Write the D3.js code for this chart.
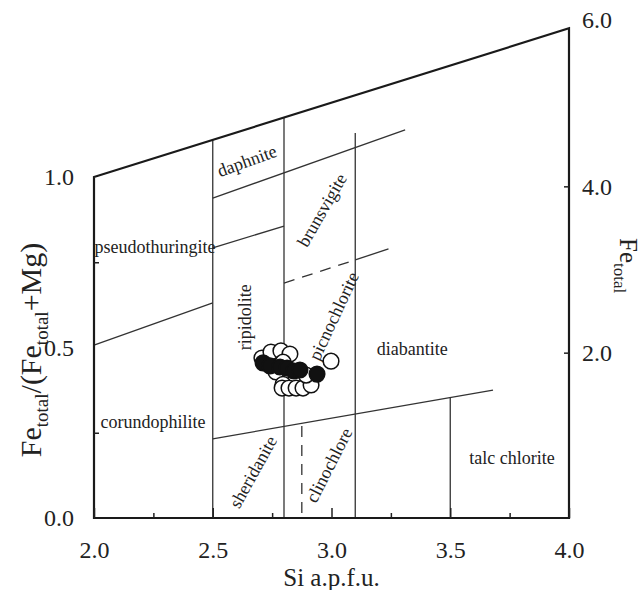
<!DOCTYPE html>
<html>
<head>
<meta charset="utf-8">
<script src="https://cdn.jsdelivr.net/npm/d3@7"></script>
<style>
  body { margin: 0; background: #fff; }
</style>
</head>
<body>
<script>
// Axis ticks
var xTicks = [2.0, 2.5, 3.0, 3.5, 4.0];
var xMinor = [2.25, 2.75, 3.25, 3.75];
var yTicks = [0.0, 0.5, 1.0];
var yMinor = [0.25, 0.75];
var feTicks = [2.0, 4.0, 6.0];
var feTop = 5.9; // Fe total at the top right corner

// Field boundaries, [Si, Fe/(Fe+Mg)]; "top" means up to the upper frame line
var solidLines = [
  [[2.0, 0.507], [2.5, 0.631]],
  [[2.5, 0.792], [2.8, 0.856]],
  [[2.5, 0.938], [3.31, 1.138]],
  [[3.1, 0.757], [3.24, 0.789]],
  [[2.5, 0.232], [3.68, 0.375]]
];
var verticals = [
  [2.5, 0, "top"],
  [2.8, 0, "top"],
  [3.1, 0, 1.129],
  [3.5, 0, 0.353]
];
var dashedLines = [
  [[2.8, 0.689], [3.1, 0.757]],
  [[2.875, 0.015], [2.875, 0.277]]
];

// Field names: [label, Si, ratio, angle]
var fields = [
  ["daphnite", 2.644, 1.047, -20],
  ["brunsvigite", 2.96, 0.903, -60],
  ["pseudothuringite", 2.257, 0.795, 0],
  ["ripidolite", 2.636, 0.589, -90],
  ["picnochlorite", 3.01, 0.592, -65],
  ["diabantite", 3.34, 0.496, 0],
  ["corundophilite", 2.248, 0.282, 0],
  ["sheridanite", 2.67, 0.135, -61],
  ["clinochlore", 2.99, 0.155, -63],
  ["talc chlorite", 3.76, 0.176, 0]
];

// Samples [Si, Fe/(Fe+Mg)]
var openPts = [
  [2.707, 0.469], [2.745, 0.487], [2.787, 0.490], [2.825, 0.481],
  [2.796, 0.457], [2.766, 0.428], [2.851, 0.411], [2.796, 0.392],
  [2.792, 0.381], [2.821, 0.381], [2.851, 0.381], [2.880, 0.381],
  [2.914, 0.390], [2.893, 0.419], [2.998, 0.460]
];
var filledPts = [
  [2.712, 0.455], [2.741, 0.446], [2.783, 0.443], [2.813, 0.440],
  [2.842, 0.431], [2.867, 0.434], [2.939, 0.422]
];

var W = 643, H = 590;
var FONT = "'Liberation Serif', 'Times New Roman', serif";

var x = d3.scaleLinear().domain([2, 4]).range([94, 569]);
var y = d3.scaleLinear().domain([0, 1]).range([518, 177]);
var yR = d3.scaleLinear().domain([0, 6]).range([519, 20]);

// upper frame line, in left-axis units
var topLine = d3.scaleLinear().domain([2, 4]).range([1, y.invert(yR(feTop))]);

var svg = d3.select("body").append("svg")
  .attr("width", W)
  .attr("height", H);

var line = d3.line().x(function(d) { return x(d[0]); }).y(function(d) { return y(d[1]); });

// Field boundaries
svg.selectAll(".seg")
  .data(solidLines)
  .enter().append("path")
  .attr("class", "seg")
  .attr("d", line)
  .attr("fill", "none")
  .attr("stroke", "#333")
  .attr("stroke-width", 1.3);

svg.selectAll(".vert")
  .data(verticals)
  .enter().append("line")
  .attr("x1", function(d) { return x(d[0]); })
  .attr("x2", function(d) { return x(d[0]); })
  .attr("y1", function(d) { return y(d[1]); })
  .attr("y2", function(d) { return y(d[2] === "top" ? topLine(d[0]) : d[2]); })
  .attr("stroke", "#333")
  .attr("stroke-width", 1.3);

svg.selectAll(".dash")
  .data(dashedLines)
  .enter().append("path")
  .attr("d", line)
  .attr("fill", "none")
  .attr("stroke", "#333")
  .attr("stroke-width", 1.3)
  .attr("stroke-dasharray", "11,8");

// Frame
svg.append("path")
  .attr("d", "M" + x(2) + "," + y(0) + "L" + x(2) + "," + y(1) +
             "L" + x(4) + "," + yR(feTop) + "L" + x(4) + "," + y(0) + "Z")
  .attr("fill", "none")
  .attr("stroke", "#1a1a1a")
  .attr("stroke-width", 2.2)
  .attr("stroke-linejoin", "miter");

function styleAxis(g, size) {
  g.select(".domain").remove();
  g.attr("font-size", size).style("color", "#222");
  g.selectAll(".tick line").attr("stroke-width", 1.5);
}

// Bottom axis
svg.append("g")
  .attr("transform", "translate(0," + y(0) + ")")
  .call(d3.axisBottom(x).tickValues(xTicks).tickSize(0).tickPadding(23).tickFormat(d3.format(".1f")))
  .call(styleAxis, 24);
svg.append("g")
  .attr("transform", "translate(0," + y(0) + ")")
  .call(d3.axisBottom(x).tickValues(xTicks).tickSize(-10).tickFormat(""))
  .call(styleAxis, 24);
svg.append("g")
  .attr("transform", "translate(0," + y(0) + ")")
  .call(d3.axisBottom(x).tickValues(xMinor).tickSize(-5).tickFormat(""))
  .call(styleAxis, 24);

// Left axis
svg.append("g")
  .attr("transform", "translate(" + x(2) + ",0)")
  .call(d3.axisLeft(y).tickValues(yTicks).tickSize(0).tickPadding(20).tickFormat(d3.format(".1f")))
  .call(styleAxis, 24);
svg.append("g")
  .attr("transform", "translate(" + x(2) + ",0)")
  .call(d3.axisLeft(y).tickValues(yMinor).tickSize(-5).tickFormat(""))
  .call(styleAxis, 24);

// Right axis
svg.append("g")
  .attr("transform", "translate(" + x(4) + ",0)")
  .call(d3.axisRight(yR).tickValues(feTicks).tickSize(0).tickPadding(13).tickFormat(d3.format(".1f")))
  .call(styleAxis, 24);
svg.append("g")
  .attr("transform", "translate(" + x(4) + ",0)")
  .call(d3.axisRight(yR).tickValues(feTicks.slice(0, 2)).tickSize(-5).tickFormat(""))
  .call(styleAxis, 24);

// Field names
svg.selectAll(".field")
  .data(fields)
  .enter().append("text")
  .attr("class", "field")
  .attr("transform", function(d) {
    return "translate(" + x(d[1]) + "," + y(d[2]) + ") rotate(" + d[3] + ")";
  })
  .attr("text-anchor", "middle")
  .attr("dominant-baseline", "central")
  .attr("font-size", 18)
  .text(function(d) { return d[0]; });

// Samples
svg.selectAll(".open")
  .data(openPts)
  .enter().append("circle")
  .attr("cx", function(d) { return x(d[0]); })
  .attr("cy", function(d) { return y(d[1]); })
  .attr("r", 7.8)
  .attr("fill", "#fff")
  .attr("stroke", "#111")
  .attr("stroke-width", 1.5);

svg.selectAll(".filled")
  .data(filledPts)
  .enter().append("circle")
  .attr("cx", function(d) { return x(d[0]); })
  .attr("cy", function(d) { return y(d[1]); })
  .attr("r", 7.8)
  .attr("fill", "#111")
  .attr("stroke", "#111")
  .attr("stroke-width", 1.5);

// Axis titles
svg.append("text")
  .attr("x", (x(2) + x(4)) / 2)
  .attr("y", 586)
  .attr("text-anchor", "middle")
  .attr("font-size", 25)
  .text("Si a.p.f.u.");

var yt = svg.append("text")
  .attr("transform", "translate(41,350) rotate(-90)")
  .attr("text-anchor", "middle")
  .attr("font-size", 30);
yt.append("tspan").text("Fe");
yt.append("tspan").attr("font-size", 19).attr("dy", 7).text("total");
yt.append("tspan").attr("dy", -7).text("/(Fe");
yt.append("tspan").attr("font-size", 19).attr("dy", 7).text("total");
yt.append("tspan").attr("dy", -7).text("+Mg)");

var rt = svg.append("text")
  .attr("transform", "translate(620,238) rotate(90)")
  .attr("font-size", 25);
rt.append("tspan").text("Fe");
rt.append("tspan").attr("font-size", 17).attr("dy", 6).text("total");

svg.selectAll("text").style("font-family", FONT).style("fill", "#222");
</script>
</body>
</html>
